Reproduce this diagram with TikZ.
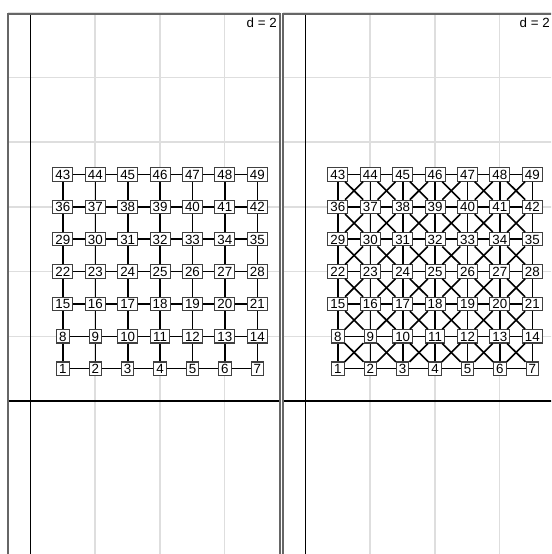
\documentclass[tikz,border=0pt]{standalone}
\usepackage{fontspec}
\setmainfont{Liberation Sans}
\begin{document}
\begin{tikzpicture}[x=0.75pt,y=-0.75pt,
  vtx/.style={draw=black!75,line width=0.8pt,fill=white,inner xsep=1.9pt,inner ysep=1.4pt,
    text height=7.2pt,text depth=0pt,font=\fontsize{10}{12}\selectfont},
  edge/.style={line width=1.2pt,black},
  gridline/.style={line width=1.1pt,black!13},
  axisline/.style={line width=0.9pt,black},
  frameline/.style={line width=1.4pt,black!60},
  dlabel/.style={anchor=north east,inner sep=0pt,font=\fontsize{10}{12}\selectfont}]
\useasboundingbox (0,0) rectangle (551,554);
\clip (0,0) rectangle (551,554);
% ---------- grids ----------
\foreach \ox/\lx/\rx in {30.5/8/280, 305.5/283/600}{
  \foreach \k in {1,2,3}{
    \pgfmathsetmacro\gx{\ox+\k*64.7}
    \draw[gridline] (\gx,14) -- (\gx,560);
  }
  \foreach \k in {1,...,6}{
    \pgfmathsetmacro\gy{401-\k*64.7}
    \draw[gridline] (\lx,\gy) -- (\rx,\gy);
  }
  \draw[axisline] (\ox,14) -- (\ox,560);
  \draw[axisline] (\lx,401) -- (\rx,401);
}
% ---------- frames ----------
\draw[frameline] (8,600) -- (8,14) -- (280,14) -- (280,600);
\draw[frameline] (283,600) -- (283,14) -- (600,14);
\node[dlabel] (dL) at (277,18) {d = 2};
\node[dlabel] (dR) at (550,18) {d = 2};
% ---------- nodes ----------
\foreach \P/\ox in {L/30.5, R/305.5}{
  \foreach \j in {1,...,7}{
    \foreach \i in {1,...,7}{
      \pgfmathtruncatemacro\n{(\j-1)*7+\i}
      \node[vtx] (\P\n) at ({\ox+\i*32.4},{401-\j*32.35}) {\n};
    }
  }
}
% ---------- edges ----------
\foreach \P in {L,R}{
  \foreach \j in {1,...,7}{
    \foreach \i in {1,...,6}{
      \pgfmathtruncatemacro\a{(\j-1)*7+\i}
      \pgfmathtruncatemacro\b{\a+1}
      \draw[edge] (\P\a) -- (\P\b);
    }
  }
  \foreach \j in {1,...,6}{
    \foreach \i in {1,...,7}{
      \pgfmathtruncatemacro\a{(\j-1)*7+\i}
      \pgfmathtruncatemacro\b{\a+7}
      \draw[edge] (\P\a) -- (\P\b);
    }
  }
}
\foreach \j in {1,...,6}{
  \foreach \i in {1,...,6}{
    \pgfmathtruncatemacro\a{(\j-1)*7+\i}
    \pgfmathtruncatemacro\b{\a+8}
    \pgfmathtruncatemacro\c{\a+1}
    \pgfmathtruncatemacro\d{\a+7}
    \draw[edge] (R\a) -- (R\b);
    \draw[edge] (R\c) -- (R\d);
  }
}
\end{tikzpicture}
\end{document}
